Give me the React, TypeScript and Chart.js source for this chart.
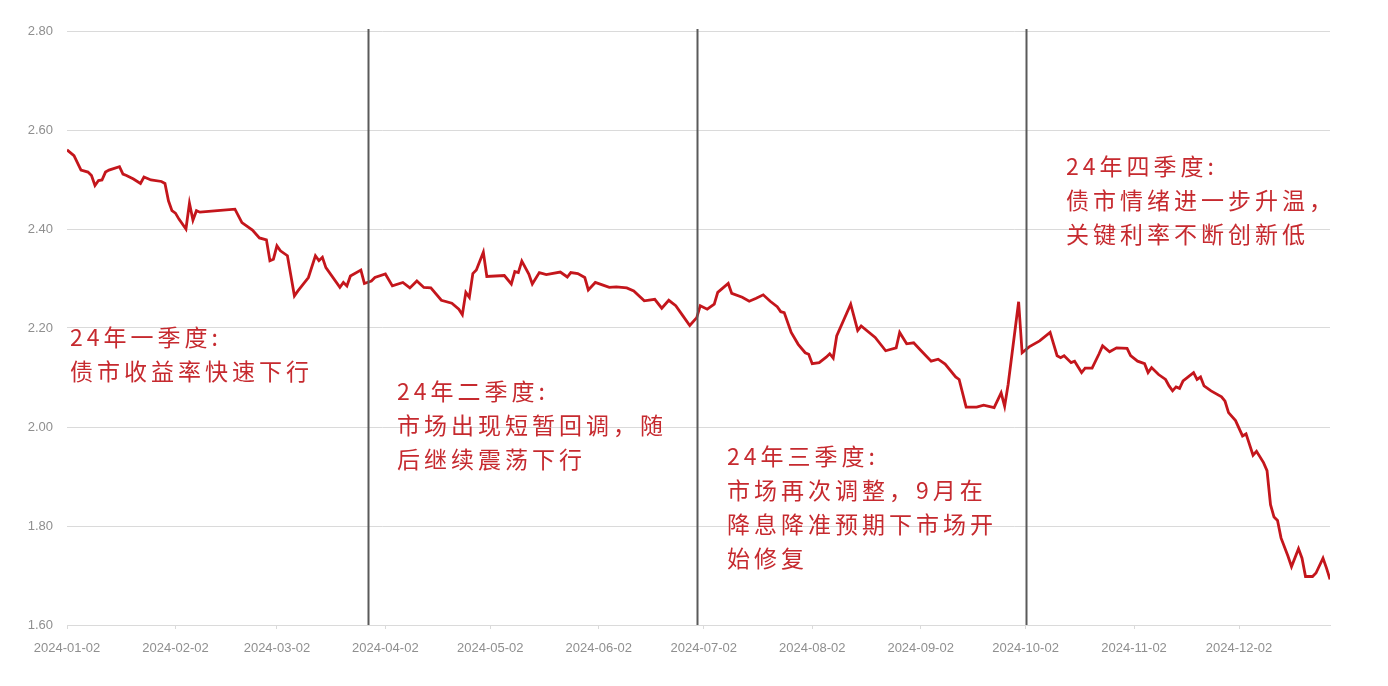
import React, { useEffect, useRef } from "react";
import { Chart, registerables } from "chart.js";
Chart.register(...registerables);

/** ---------- Data ---------- */
// trading dates (MM-DD, year 2024) and 10Y yield (%)
const dates = [
  "01-02", "01-04", "01-06", "01-08", "01-09", "01-10", "01-11", "01-12", "01-13", "01-14",
  "01-17", "01-18", "01-19", "01-21", "01-23", "01-24", "01-26", "01-29", "01-30", "01-31",
  "02-01", "02-02", "02-03", "02-05", "02-06", "02-07", "02-08", "02-09", "02-14", "02-19",
  "02-21", "02-24", "02-26", "02-28", "02-29", "03-01", "03-02", "03-03", "03-05", "03-07",
  "03-08", "03-11", "03-13", "03-14", "03-15", "03-16", "03-20", "03-21", "03-22", "03-23",
  "03-26", "03-27", "03-29", "03-30", "04-02", "04-04", "04-07", "04-09", "04-11", "04-13",
  "04-15", "04-18", "04-21", "04-23", "04-24", "04-25", "04-26", "04-27", "04-28", "04-30",
  "05-01", "05-06", "05-08", "05-09", "05-10", "05-11", "05-13", "05-14", "05-16", "05-18",
  "05-22", "05-24", "05-25", "05-27", "05-29", "05-30", "06-01", "06-03", "06-05", "06-07",
  "06-10", "06-12", "06-15", "06-18", "06-20", "06-22", "06-24", "06-26", "06-28", "06-30",
  "07-01", "07-03", "07-05", "07-06", "07-09", "07-10", "07-13", "07-15", "07-17", "07-19",
  "07-21", "07-23", "07-24", "07-25", "07-27", "07-29", "07-31", "08-01", "08-02", "08-04",
  "08-06", "08-07", "08-08", "08-09", "08-13", "08-15", "08-16", "08-20", "08-23", "08-26",
  "08-27", "08-29", "08-31", "09-02", "09-05", "09-07", "09-09", "09-12", "09-13", "09-15",
  "09-18", "09-20", "09-23", "09-25", "09-26", "09-27", "09-30", "10-01", "10-03", "10-06",
  "10-09", "10-11", "10-12", "10-13", "10-15", "10-16", "10-18", "10-19", "10-21", "10-23",
  "10-24", "10-26", "10-28", "10-31", "11-01", "11-03", "11-05", "11-06", "11-07", "11-09",
  "11-11", "11-12", "11-13", "11-14", "11-15", "11-16", "11-19", "11-20", "11-21", "11-22",
  "11-24", "11-27", "11-28", "11-29", "12-01", "12-03", "12-04", "12-06", "12-07", "12-09",
  "12-10", "12-11", "12-12", "12-13", "12-14", "12-16", "12-17", "12-19", "12-20", "12-21",
  "12-23", "12-24", "12-26", "12-27", "12-28",
];

const yields = [
  2.560, 2.548, 2.519, 2.515, 2.508, 2.488, 2.498, 2.499, 2.515, 2.519,
  2.526, 2.511, 2.508, 2.501, 2.492, 2.505, 2.499, 2.496, 2.492, 2.457,
  2.437, 2.432, 2.420, 2.400, 2.452, 2.418, 2.437, 2.434, 2.437, 2.440,
  2.413, 2.398, 2.382, 2.378, 2.336, 2.339, 2.366, 2.356, 2.346, 2.265,
  2.275, 2.302, 2.346, 2.336, 2.343, 2.322, 2.282, 2.292, 2.285, 2.305,
  2.317, 2.290, 2.295, 2.302, 2.309, 2.285, 2.292, 2.281, 2.295, 2.282,
  2.281, 2.256, 2.250, 2.238, 2.227, 2.272, 2.262, 2.310, 2.317, 2.353,
  2.304, 2.306, 2.289, 2.314, 2.312, 2.335, 2.309, 2.289, 2.312, 2.308,
  2.313, 2.303, 2.312, 2.310, 2.302, 2.277, 2.292, 2.287, 2.282, 2.283,
  2.281, 2.275, 2.255, 2.258, 2.240, 2.256, 2.245, 2.225, 2.205, 2.221,
  2.245, 2.238, 2.248, 2.272, 2.290, 2.270, 2.262, 2.254, 2.260, 2.267,
  2.254, 2.243, 2.233, 2.231, 2.191, 2.167, 2.150, 2.147, 2.128, 2.130,
  2.141, 2.148, 2.139, 2.184, 2.248, 2.195, 2.204, 2.181, 2.154, 2.160,
  2.191, 2.168, 2.170, 2.155, 2.133, 2.137, 2.127, 2.101, 2.096, 2.040,
  2.040, 2.044, 2.039, 2.069, 2.042, 2.086, 2.253, 2.150, 2.162, 2.174,
  2.191, 2.144, 2.140, 2.144, 2.130, 2.133, 2.110, 2.119, 2.119, 2.148,
  2.164, 2.152, 2.160, 2.159, 2.144, 2.133, 2.128, 2.110, 2.120, 2.106,
  2.096, 2.083, 2.073, 2.081, 2.078, 2.093, 2.110, 2.096, 2.101, 2.083,
  2.073, 2.061, 2.052, 2.029, 2.013, 1.982, 1.986, 1.943, 1.951, 1.928,
  1.912, 1.843, 1.818, 1.811, 1.776, 1.739, 1.718, 1.754, 1.735, 1.698,
  1.698, 1.705, 1.735, 1.715, 1.692,
];

const tickDates = ["01-02", "02-02", "03-02", "04-02", "05-02", "06-02", "07-02", "08-02", "09-02", "10-02", "11-02", "12-02"];
const tickLabels = tickDates.map((d) => `2024-${d}`);

// quarter separators
const quarterLines = ["03-28", "06-30", "10-02"];

// annotation text, one entry per quarter
const notes = [
  ["24年一季度:", "债市收益率快速下行"],
  ["24年二季度:", "市场出现短暂回调，随", "后继续震荡下行"],
  ["24年三季度:", "市场再次调整，9月在", "降息降准预期下市场开", "始修复"],
  ["24年四季度:", "债市情绪进一步升温，", "关键利率不断创新低"],
];
const notePos = [
  { left: 70, top: 319 },
  { left: 397, top: 373 },
  { left: 727, top: 438 },
  { left: 1066, top: 148 },
];

/** ---------- Helpers ---------- */
const BASE = Date.UTC(2024, 0, 2);
const dayOffset = (md: string) => {
  const [m, d] = md.split("-").map(Number);
  return (Date.UTC(2024, m - 1, d) - BASE) / 86400000;
};

const GRID = "#dadada";
const LABEL = "#8f8f8f";
const RED = "#c4161c";
const TEXT_RED = "#c62a2f";
const TICK_FONT = "'Liberation Sans', Arial, sans-serif";

/** ---------- Component ---------- */
const App: React.FC = () => {
  const canvasRef = useRef<HTMLCanvasElement | null>(null);

  useEffect(() => {
    const canvas = canvasRef.current;
    if (!canvas) return;

    const points = dates.map((d, i) => ({ x: dayOffset(d), y: yields[i] }));
    const xMax = dayOffset(dates[dates.length - 1]);

    const quarterLinePlugin = {
      id: "quarter-lines",
      afterDatasetsDraw(chart: any) {
        const { ctx, chartArea, scales } = chart;
        ctx.save();
        ctx.strokeStyle = "#5a5a5a";
        ctx.lineWidth = 2;
        quarterLines.forEach((q) => {
          const x = Math.round(scales.x.getPixelForValue(dayOffset(q))) + 0.5;
          ctx.beginPath();
          ctx.moveTo(x, chartArea.top - 2);
          ctx.lineTo(x, chartArea.bottom);
          ctx.stroke();
        });
        ctx.restore();
      },
    };

    const chart = new Chart(canvas, {
      type: "line",
      data: {
        datasets: [
          {
            label: "10Y",
            data: points,
            borderColor: RED,
            borderWidth: 2.8,
            pointRadius: 0,
            tension: 0,
            fill: false,
          },
        ],
      },
      options: {
        responsive: true,
        maintainAspectRatio: false,
        animation: false,
        layout: { padding: { top: 31, right: 58, left: 0, bottom: 0 } },
        plugins: { legend: { display: false }, tooltip: { enabled: false } },
        scales: {
          x: {
            type: "linear",
            min: 0,
            max: xMax,
            afterBuildTicks: (scale: any) => {
              scale.ticks = tickDates.map((d) => ({ value: dayOffset(d) }));
            },
            afterFit: (scale: any) => {
              scale.height = 61;
            },
            grid: { drawOnChartArea: false, drawTicks: true, tickLength: 4, color: GRID },
            border: { color: GRID },
            ticks: {
              autoSkip: false,
              maxRotation: 0,
              padding: 12,
              color: LABEL,
              font: { family: TICK_FONT, size: 13 },
              callback: (v: any) => {
                const i = tickDates.findIndex((d) => dayOffset(d) === v);
                return i >= 0 ? tickLabels[i] : "";
              },
            },
          },
          y: {
            min: 1.6,
            max: 2.8,
            afterFit: (scale: any) => {
              scale.width = 67;
            },
            grid: { color: GRID, drawTicks: false, lineWidth: 1 },
            border: { display: false },
            ticks: {
              stepSize: 0.2,
              padding: 14,
              color: LABEL,
              font: { family: TICK_FONT, size: 13 },
              callback: (v: any) => Number(v).toFixed(2),
            },
          },
        },
      },
      plugins: [quarterLinePlugin],
    });

    return () => chart.destroy();
  }, []);

  return (
    <div style={{ position: "absolute", left: 0, top: 0, width: 1388, height: 686, background: "#fff" }}>
      <canvas ref={canvasRef} />
      {notes.map((lines, i) => (
        <div
          key={i}
          style={{
            position: "absolute",
            left: notePos[i].left,
            top: notePos[i].top,
            color: TEXT_RED,
            fontFamily: "'Noto Sans CJK SC', 'Noto Sans', sans-serif",
            fontSize: 23,
            letterSpacing: 4,
            lineHeight: "34px",
            whiteSpace: "nowrap",
            pointerEvents: "none",
          }}
        >
          {lines.map((l, j) => (
            <div key={j}>{l}</div>
          ))}
        </div>
      ))}
    </div>
  );
};

export default App;
